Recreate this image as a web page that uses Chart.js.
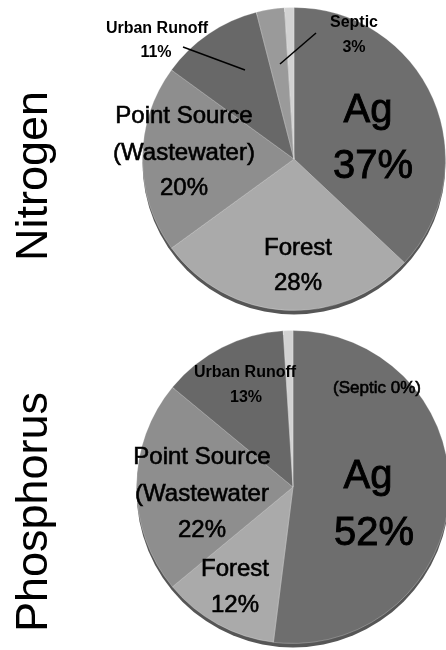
<!DOCTYPE html>
<html>
<head>
<meta charset="utf-8">
<script src="https://cdn.jsdelivr.net/npm/chart.js@4.4.1/dist/chart.umd.min.js"></script>
<style>
  html, body { margin: 0; padding: 0; background: #fff; }
  #wrap { position: relative; width: 446px; height: 650px; overflow: hidden; }
  canvas { position: absolute; left: 0; }
</style>
</head>
<body>
<div id="wrap">
  <canvas id="nitrogen" width="460" height="325" style="top:0"></canvas>
  <canvas id="phosphorus" width="460" height="325" style="top:325px"></canvas>
</div>
<script>
// slices, clockwise from 12 o'clock
const sources = ['Ag', 'Forest', 'Point Source', 'Urban Runoff', 'Septic', 'Other'];
const nitrogenPct = [37, 28, 20, 11, 3, 1];
const phosphorusPct = [52, 12, 22, 13, 0, 1];
const sliceColors = ['#6e6e6e', '#aaaaaa', '#8e8e8e', '#686868', '#9a9a9a', '#d2d2d2'];

const FONT = '"Liberation Sans", Arial, sans-serif';

// draws the rim under the pie, the slice labels and the side title
const pieLabels = {
  id: 'pieLabels',
  beforeDatasetsDraw(chart) {
    const arc = chart.getDatasetMeta(0).data[0];
    const ctx = chart.ctx;
    ctx.save();
    ctx.fillStyle = '#565656';
    ctx.beginPath();
    ctx.arc(arc.x, arc.y + 4, arc.outerRadius, 0, Math.PI * 2);
    ctx.fill();
    ctx.restore();
  },
  afterDatasetsDraw(chart, args, opts) {
    const arc = chart.getDatasetMeta(0).data[0];
    const ctx = chart.ctx;
    ctx.save();
    ctx.fillStyle = '#000';
    ctx.strokeStyle = '#000';
    ctx.textAlign = 'center';
    ctx.textBaseline = 'alphabetic';
    (opts.labels || []).forEach(l => {
      ctx.font = (l.bold ? 'bold ' : '') + l.size + 'px ' + FONT;
      ctx.fillText(l.text, arc.x + l.dx, arc.y + l.dy);
      if (!l.bold) {
        // the original face is a bit heavier than Liberation regular
        ctx.lineWidth = l.size > 30 ? 0.9 : 0.6;
        ctx.strokeText(l.text, arc.x + l.dx, arc.y + l.dy);
      }
    });
    ctx.lineWidth = 1.5;
    (opts.leaders || []).forEach(p => {
      ctx.beginPath();
      ctx.moveTo(arc.x + p[0], arc.y + p[1]);
      ctx.lineTo(arc.x + p[2], arc.y + p[3]);
      ctx.stroke();
    });
    const t = opts.side;
    if (t) {
      ctx.translate(t.x, t.y);
      ctx.rotate(-Math.PI / 2);
      ctx.font = '45px ' + FONT;
      ctx.fillText(t.text, 0, 0);
    }
    ctx.restore();
  }
};

function makePie(id, values, padding, plugOpts) {
  return new Chart(document.getElementById(id), {
    type: 'pie',
    data: {
      labels: sources,
      datasets: [{
        data: values,
        backgroundColor: sliceColors,
        borderColor: 'rgba(255,255,255,0.25)',
        borderWidth: 1,
        hoverOffset: 0
      }]
    },
    options: {
      responsive: false,
      animation: false,
      layout: { padding: padding },
      plugins: {
        legend: { display: false },
        tooltip: { enabled: false },
        pieLabels: plugOpts
      }
    },
    plugins: [pieLabels]
  });
}

makePie('nitrogen', nitrogenPct, { left: 142, right: 14, top: 7, bottom: 14 }, {
  side: { text: 'Nitrogen', x: 47, y: 176 },
  labels: [
    { text: 'Ag', dx: 74, dy: -37, size: 40 },
    { text: nitrogenPct[0] + '%', dx: 79, dy: 19, size: 40 },
    { text: 'Point Source', dx: -110, dy: -36, size: 24 },
    { text: '(Wastewater)', dx: -110, dy: 1, size: 24 },
    { text: nitrogenPct[2] + '%', dx: -110, dy: 36, size: 24 },
    { text: 'Forest', dx: 4, dy: 96, size: 24 },
    { text: nitrogenPct[1] + '%', dx: 4, dy: 131, size: 24 },
    { text: 'Urban Runoff', dx: -137, dy: -126, size: 16, bold: true },
    { text: nitrogenPct[3] + '%', dx: -138, dy: -102, size: 16, bold: true },
    { text: 'Septic', dx: 60, dy: -132, size: 16, bold: true },
    { text: nitrogenPct[4] + '%', dx: 60, dy: -107, size: 16, bold: true }
  ],
  leaders: [[-111, -112, -49, -89], [22, -126, -14, -95]]
});

makePie('phosphorus', phosphorusPct, { left: 136, right: 10, top: 5, bottom: 6 }, {
  side: { text: 'Phosphorus', x: 47, y: 187 },
  labels: [
    { text: 'Urban Runoff', dx: -48, dy: -110, size: 16, bold: true },
    { text: phosphorusPct[3] + '%', dx: -47, dy: -85, size: 16, bold: true },
    { text: '(Septic ' + phosphorusPct[4] + '%)', dx: 84, dy: -94, size: 17 },
    { text: 'Point Source', dx: -91, dy: -23, size: 24 },
    { text: '(Wastewater', dx: -91, dy: 14, size: 24 },
    { text: phosphorusPct[2] + '%', dx: -91, dy: 50, size: 24 },
    { text: 'Ag', dx: 75, dy: 1, size: 40 },
    { text: phosphorusPct[0] + '%', dx: 81, dy: 58, size: 40 },
    { text: 'Forest', dx: -58, dy: 89, size: 24 },
    { text: phosphorusPct[1] + '%', dx: -58, dy: 125, size: 24 }
  ]
});
</script>
</body>
</html>
